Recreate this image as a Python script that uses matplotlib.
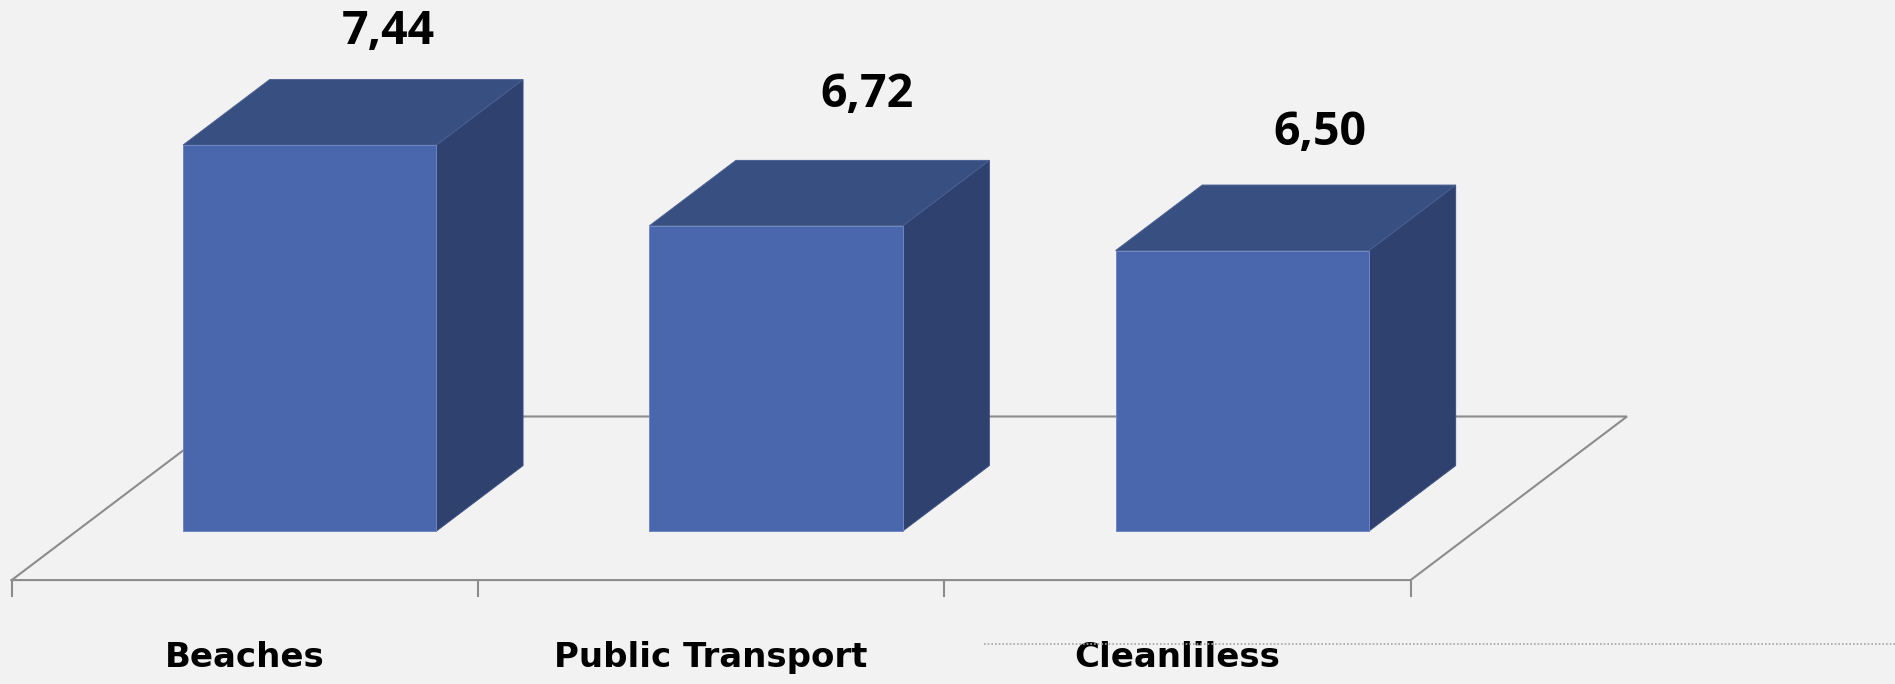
import matplotlib
matplotlib.use("Agg")
import matplotlib.pyplot as plt
from matplotlib.font_manager import FontProperties
from matplotlib.lines import Line2D

# ---- data -------------------------------------------------------------
categories = ["Beaches", "Public Transport", "Cleanliless"]
scores = [7.44, 6.72, 6.50]
value_labels = ["7,44", "6,72", "6,50"]

# ---- styling ----------------------------------------------------------
BG = "#f2f2f2"
FRONT = "#4a66ac"
TOP = "#384f82"
SIDE = "#2f416f"
GRID = "#8c8c8c"

AXIS_MIN = 4.0            # value axis starts at 4
DEPTH_DX = 0.4641         # oblique projection of the floor depth (x units)
DEPTH_DY = 1.458          # oblique projection of the floor depth (value units)
BAR_FRONT, BAR_BACK = 0.3, 0.7   # bars sit in the middle of the floor depth
BAR_WIDTH = 0.5434
TICK_LEN = 0.1426
# label nudges in pixels (dx, dy) from the back-top centre of each bar
LABEL_NUDGE = [(-8.5, 35.8), (4.2, 53.3), (-9.0, 40.3)]

value_fp = FontProperties(family=["Open Sans", "DejaVu Sans"], weight="bold", size=33.5)
cat_fp = FontProperties(family=["DejaVu Sans"], weight="bold", size=24.5)


def proj(x, v, d):
    """Map (category x, value, depth) onto the 2-D axes."""
    return x + d * DEPTH_DX, v + (d - BAR_FRONT) * DEPTH_DY


fig = plt.figure(figsize=(18.95, 6.84), dpi=100, facecolor=BG)
ax = fig.add_axes([0, 0, 1, 1])
ax.set_facecolor(BG)
ax.set_xlim(-0.02509, 4.0388)
ax.set_ylim(2.6364, 8.7326)
ax.axis("off")

n = len(categories)

# floor outline
corners = [proj(0, AXIS_MIN, 0), proj(n, AXIS_MIN, 0),
           proj(n, AXIS_MIN, 1), proj(0, AXIS_MIN, 1), proj(0, AXIS_MIN, 0)]
ax.plot([c[0] for c in corners], [c[1] for c in corners],
        color=GRID, lw=1.5, solid_joinstyle="miter", zorder=1)

# category ticks
for i in range(n + 1):
    tx, ty = proj(i, AXIS_MIN, 0)
    ax.plot([tx, tx], [ty, ty - TICK_LEN], color=GRID, lw=1.5, zorder=1)

# 3-D bars
for i, (cat, val, lab) in enumerate(zip(categories, scores, value_labels)):
    x0 = i + 0.5 - BAR_WIDTH / 2
    x1 = i + 0.5 + BAR_WIDTH / 2
    side = [proj(x1, AXIS_MIN, BAR_FRONT), proj(x1, AXIS_MIN, BAR_BACK),
            proj(x1, val, BAR_BACK), proj(x1, val, BAR_FRONT)]
    top = [proj(x0, val, BAR_FRONT), proj(x1, val, BAR_FRONT),
           proj(x1, val, BAR_BACK), proj(x0, val, BAR_BACK)]
    front = [proj(x0, AXIS_MIN, BAR_FRONT), proj(x1, AXIS_MIN, BAR_FRONT),
             proj(x1, val, BAR_FRONT), proj(x0, val, BAR_FRONT)]
    for face, col, edge in ((side, SIDE, "#3b4f80"), (top, TOP, "#4a5f92"),
                            (front, FRONT, "#6f86c2")):
        ax.fill([p[0] for p in face], [p[1] for p in face],
                facecolor=col, edgecolor=edge, lw=0.7, zorder=3)

    # value label above the bar
    cx, cy = proj(i + 0.5, val, BAR_BACK)
    dx, dy = LABEL_NUDGE[i]
    ax.annotate(lab, xy=(cx, cy), xytext=(dx, dy), textcoords="offset pixels",
                ha="center", va="baseline", fontproperties=value_fp,
                color="black", zorder=5)

    # category label under the floor
    lx, ly = proj(i + 0.5, AXIS_MIN, 0)
    ax.annotate(cat, xy=(lx, ly), xytext=(0, -87), textcoords="offset pixels",
                ha="center", va="baseline", fontproperties=cat_fp,
                color="black", zorder=5)

# dotted frame edge along the bottom right
fig.add_artist(Line2D([984 / 1895, 1.0], [1 - 644 / 684, 1 - 644 / 684],
                      transform=fig.transFigure, color="#a6a6a6", lw=1.2,
                      linestyle=(0, (1, 1.2))))

fig.savefig("out.png", dpi=100, facecolor=BG)
